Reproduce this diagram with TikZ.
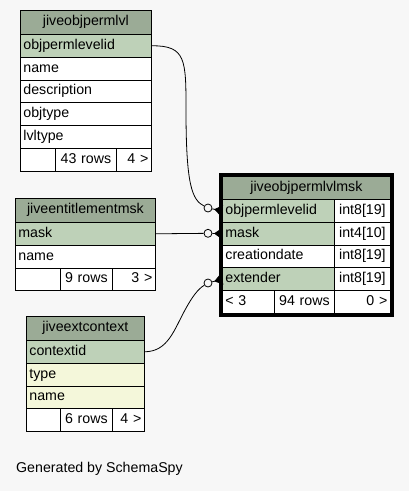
\documentclass[tikz,border=0pt]{standalone}
\usepackage{fontspec}
\setmainfont{Liberation Sans}
\usetikzlibrary{arrows.meta,fit}
\definecolor{bgc}{HTML}{F7F7F7}
\definecolor{hdc}{HTML}{9BAB96}
\definecolor{pkc}{HTML}{BED1B8}
\definecolor{idxc}{HTML}{F4F7DA}

\begin{document}
\begin{tikzpicture}[x=1pt, y=-1pt, font=\fontsize{14.2}{16}\selectfont,
   cell/.style={draw, line width=.8pt, anchor=north west, fill=white, inner xsep=3pt, inner ysep=0pt,
                minimum height=22.8pt, text height=10pt, text depth=3pt, align=left},
   pk/.style={cell, fill=pkc},
   idx/.style={cell, fill=idxc},
   hd/.style={cell, fill=hdc, minimum height=24pt, align=center},
   tw/.style={text width=#1},
   odot/.style={circle, draw, line width=.8pt, fill=bgc, minimum size=8pt, inner sep=0pt},
   rel/.style={line width=.8pt},
   crow/.style={rel, -{Triangle[reversed, length=8pt, width=11pt]}}]
\fill[bgc] (0,0) rectangle (409,491);
%
             \node [hd, tw=125pt] at (20,10) (lvl) {jiveobjpermlvl};
              \node [pk, tw=125pt] at (20,34) (lvl id) {objpermlevelid};
              \node [cell, tw=125pt] at (20,56.8) (lvl name) {name};
              \node [cell, tw=125pt] at (20,79.6) (lvl desc) {description};
              \node [cell, tw=125pt] at (20,102.4) (lvl obj) {objtype};
              \node [cell, tw=125pt] at (20,125.2) (lvl lvt) {lvltype};
              \node [cell, tw=29pt] at (20,148) (lvl f1) {};
              \node [cell, tw=55pt, align=center] at (55,148) (lvl f2) {43 rows};
              \node [cell, tw=29pt, align=right] at (116,148) (lvl f3) {4 >};
%
             \node [hd, tw=134pt] at (15,198) (ent) {jiveentitlementmsk};
              \node [pk, tw=134pt] at (15,222) (ent mask) {mask};
              \node [cell, tw=134pt] at (15,244.8) (ent name) {name};
              \node [cell, tw=39pt] at (15,267.6) (ent f1) {};
              \node [cell, tw=46pt, align=center] at (60,267.6) (ent f2) {9 rows};
              \node [cell, tw=37pt, align=right] at (112,267.6) (ent f3) {3 >};
%
             \node [hd, tw=112pt] at (26,316) (ctx) {jiveextcontext};
              \node [pk, tw=112pt] at (26,340) (ctx id) {contextid};
              \node [idx, tw=112pt] at (26,362.8) (ctx type) {type};
              \node [idx, tw=112pt] at (26,385.6) (ctx name) {name};
              \node [cell, tw=28pt] at (26,408.4) (ctx f1) {};
              \node [cell, tw=46pt, align=center] at (60,408.4) (ctx f2) {6 rows};
              \node [cell, tw=26pt, align=right] at (112,408.4) (ctx f3) {4 >};
%
             \node [hd, tw=162pt, minimum height=23pt] at (222,176) (msk) {jiveobjpermlvlmsk};
              \node [pk, tw=106pt] at (222,199) (msk id) {objpermlevelid};
              \node [cell, tw=50pt, align=center] at (334,199) (msk id t) {int8[19]};
              \node [pk, tw=106pt] at (222,221.8) (msk mask) {mask};
              \node [cell, tw=50pt, align=center] at (334,221.8) (msk mask t) {int4[10]};
              \node [cell, tw=106pt] at (222,244.6) (msk date) {creationdate};
              \node [cell, tw=50pt, align=center] at (334,244.6) (msk date t) {int8[19]};
              \node [pk, tw=106pt] at (222,267.4) (msk ext) {extender};
              \node [cell, tw=50pt, align=center] at (334,267.4) (msk ext t) {int8[19]};
              \node [cell, tw=46pt] at (222,290.2) (msk f1) {< 3};
              \node [cell, tw=54pt, align=center] at (274,290.2) (msk f2) {94 rows};
              \node [cell, tw=50pt, align=right] at (334,290.2) (msk f3) {0 >};
             \node [draw, line width=3pt, fit=(msk)(msk f3), inner sep=1.5pt] (msk box) {};
%
             \node [odot] at (208,208) (c1) {};
             \node [odot] at (208,233.3) (c2) {};
             \node [odot] at (208,283) (c3) {};
             \node [anchor=base west, inner sep=0pt] at (16,472) (gen) {Generated by SchemaSpy};
%
\draw[rel] (lvl id.east) .. controls (186,45.4) and (186,60) .. (186,110) .. controls (186,185) and (192,200) .. (c1);
\draw[crow] (c1) -- (msk id.west);
\draw[rel] (ent mask.east) -- (c2);
\draw[crow] (c2) -- (msk mask.west);
\draw[rel] (ctx id.east) .. controls (168,351.4) and (174,330) .. (185,310) .. controls (192,297) and (198,289) .. (c3);
\draw[crow] (c3) -- (msk ext.west);
\end{tikzpicture}
\end{document}
